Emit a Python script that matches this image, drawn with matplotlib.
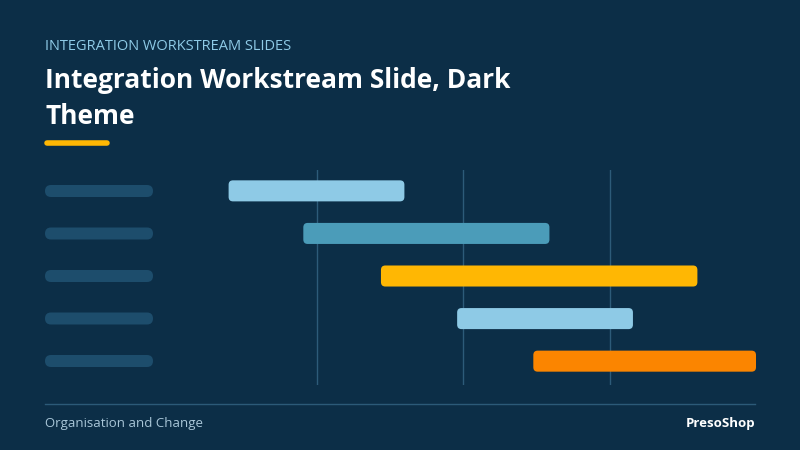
import matplotlib
matplotlib.use("Agg")
import matplotlib.pyplot as plt
from matplotlib.patches import FancyBboxPatch

# task data (x in quarter units, grid lines at 1, 2, 3)
tasks = ["Task 1", "Task 2", "Task 3", "Task 4", "Task 5"]
starts = [0.40, 0.91, 1.44, 1.96, 2.48]
ends = [1.60, 2.59, 3.60, 3.16, 4.00]
colors = ["#8ecae6", "#4b9cb9", "#ffb703", "#8ecae6", "#fb8500"]
gridlines = [1, 2, 3]

BG = "#0c2e47"
plt.rcParams['font.family'] = ['Open Sans', 'DejaVu Sans']

fig = plt.figure(figsize=(8, 4.5), dpi=100, facecolor=BG)

# overlay axes in pixel coordinates for decoration
deco = fig.add_axes([0, 0, 1, 1])
deco.set_xlim(0, 800)
deco.set_ylim(450, 0)
deco.axis("off")
deco.set_facecolor(BG)

deco.text(45, 46, "INTEGRATION WORKSTREAM SLIDES", color="#8ecae6", fontsize=10.5, va="center")
deco.text(45, 80, "Integration Workstream Slide, Dark", color="white", fontsize=19,
          fontweight="bold", va="center")
deco.text(45, 116, "Theme", color="white", fontsize=19, fontweight="bold", va="center")
deco.plot([47, 107], [143, 143], color="#ffb703", lw=4, solid_capstyle="round")
deco.plot([45, 755], [404, 404], color="#2c5a78", lw=1)
deco.text(45, 424, "Organisation and Change", color="#a9c6d8", fontsize=9.5, va="center")
deco.text(755, 424, "PresoShop", color="white", fontsize=9.5, fontweight="bold",
          va="center", ha="right")

# row label placeholders
for i in range(len(tasks)):
    y = 191 + i * 42.5
    deco.add_patch(FancyBboxPatch((45, y - 6), 108, 12, boxstyle="round,pad=0,rounding_size=6",
                                  fc="#1d4d6c", ec="none"))

# gantt axes: x px 170..756, y px 170..385
ax = fig.add_axes([170 / 800, 1 - 385 / 450, 586 / 800, 215 / 450])
ax.set_xlim(0, 4)
ax.set_ylim(4.56, -0.49)
ax.axis("off")
for g in gridlines:
    ax.axvline(g, color="#2d5b79", lw=1, zorder=1)

h = 21 / 42.5
aspect = (146.5 / 42.5)
for i, (s, e, c) in enumerate(zip(starts, ends, colors)):
    ax.add_patch(FancyBboxPatch((s, i - h / 2), e - s, h,
                                boxstyle="round,pad=0,rounding_size=0.03",
                                mutation_aspect=aspect, fc=c, ec="none", zorder=2))
ax.set_zorder(2)
ax.patch.set_alpha(0)

fig.savefig("out.png", dpi=100, facecolor=BG)
